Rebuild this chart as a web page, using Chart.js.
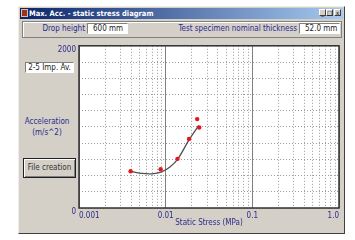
<!DOCTYPE html>
<html lang="en">
<head>
<meta charset="UTF-8">
<title>Max. Acc. - static stress diagram</title>
<script src="https://cdn.jsdelivr.net/npm/chart.js@4.4.0/dist/chart.umd.min.js"></script>
<style>
  body { margin: 0; width: 355px; height: 240px; background: #fff; position: relative; overflow: hidden;
         font-family: "Liberation Sans Narrow", "DejaVu Sans Condensed", Arial, sans-serif; font-size: 8px; }
  .abs { position: absolute; box-sizing: border-box; }
  .win { left: 18px; top: 6px; width: 327px; height: 228px; background: #d4d0c8;
         border: 1px solid; border-color: #f0eee8 #404040 #404040 #f0eee8; }
  .titlebar { left: 20px; top: 8px; width: 323px; height: 11px;
              background: linear-gradient(to right, #0a246a, #a6caf0); }
  .titletext { left: 29px; top: 8px; line-height: 11px; color: #fff; font-weight: bold; font-size: 7.5px; white-space: nowrap; }
  .icon { left: 21px; top: 9px; width: 7px; height: 8px; background: #a03020; border: 1px solid #e0c090; }
  .btn { top: 9px; width: 7px; height: 7px; background: #d4d0c8; border: 1px solid;
         border-color: #fff #404040 #404040 #fff; font-size: 6px; line-height: 5px; text-align: center; color: #000; }
  .frame { left: 22px; top: 21px; width: 320px; height: 17px; border: 1px solid #808080; box-shadow: 1px 1px 0 #fff inset; }
  .lbl { color: #2b2b8c; white-space: nowrap; }
  .box { background: #fff; border: 1px solid; border-color: #808080 #fff #fff #808080; color: #222;
         line-height: 9px; padding-left: 5px; white-space: nowrap; }
  .combo { left: 25px; top: 62px; width: 49px; height: 11px; text-align: center; padding-left: 0; }
  .button { left: 23px; top: 158px; width: 53px; height: 20px; background: #d4d0c8; border: 1px solid #202020;
            box-shadow: inset 1px 1px 0 #fff, inset -1px -1px 0 #808080; color: #333; text-align: center; line-height: 18px; }
  .ylab { left: 24px; top: 116px; width: 46px; text-align: center; line-height: 11px; }
  #chartWrap { left: 50px; top: 38px; width: 295px; height: 194px; }
</style>
</head>
<body>
  <div class="abs win"></div>
  <div class="abs titlebar"></div>
  <div class="abs icon"></div>
  <div class="abs titletext">Max. Acc. - static stress diagram</div>
  <div class="abs btn" style="left:319px;">_</div>
  <div class="abs btn" style="left:326px;">&#9633;</div>
  <div class="abs btn" style="left:334px;">x</div>

  <div class="abs frame"></div>
  <div class="abs lbl" style="right:270px; top:24px;">Drop height</div>
  <div class="abs box" style="left:87px; top:23px; width:41px; height:11px;">600 mm</div>
  <div class="abs lbl" style="right:58px; top:24px;">Test specimen nominal thickness</div>
  <div class="abs box" style="left:299px; top:23px; width:41px; height:11px;">52.0 mm</div>

  <div class="abs box combo">2-5 Imp. Av.</div>
  <div class="abs lbl ylab">Acceleration<br>(m/s^2)</div>
  <div class="abs button">File creation</div>

  <div class="abs" id="chartWrap"><canvas id="chart" width="295" height="194"></canvas></div>

<script>
// measured points
const stress = [0.00394, 0.00875, 0.0137, 0.0186, 0.0231, 0.0244];
const accel = [454, 478, 606, 852, 1096, 992];

// fitted curve
const fitStress = [0.00393, 0.0052, 0.0069, 0.0090, 0.0112, 0.0137, 0.0186, 0.0240];
const fitAccel = [450, 428, 422, 446, 506, 599, 840, 1016];

// axes
const xTicks = [0.001, 0.002, 0.003, 0.004, 0.005, 0.006, 0.007, 0.008, 0.009,
                0.01, 0.02, 0.03, 0.04, 0.05, 0.06, 0.07, 0.08, 0.09,
                0.1, 0.2, 0.3, 0.4, 0.5, 0.6, 0.7, 0.8, 0.9, 1];
const xDecades = [0.001, 0.01, 0.1, 1];
const xTickLabels = ['0.001', '0.01', '0.1', '1.0'];
const yTickLabels = ['0', '2000'];

const navy = '#2b2b8c';
const font = { family: '"Liberation Sans Narrow", "DejaVu Sans Condensed", Arial, sans-serif', size: 8 };

// dark frame around the plot
const framePlugin = {
  id: 'frame',
  beforeDatasetsDraw(chart) {
    const { ctx, chartArea: a } = chart;
    ctx.save();
    ctx.strokeStyle = '#303030';
    ctx.lineWidth = 1.5;
    ctx.strokeRect(a.left, a.top, a.right - a.left, a.bottom - a.top);
    ctx.restore();
  }
};

const bgPlugin = {
  id: 'plotBg',
  beforeDraw(chart) {
    const { ctx, chartArea: a } = chart;
    ctx.save();
    ctx.fillStyle = '#fff';
    ctx.fillRect(a.left, a.top, a.right - a.left, a.bottom - a.top);
    ctx.restore();
  }
};

new Chart(document.getElementById('chart'), {
  type: 'scatter',
  data: {
    datasets: [
      {
        label: 'Measured',
        data: stress.map((s, i) => ({ x: s, y: accel[i] })),
        backgroundColor: '#e8141c',
        borderWidth: 0,
        pointRadius: 2.2,
        order: 0
      },
      {
        label: 'Fit',
        data: fitStress.map((s, i) => ({ x: s, y: fitAccel[i] })),
        showLine: true,
        borderColor: '#505050',
        borderWidth: 1.3,
        pointRadius: 0,
        tension: 0.4,
        order: 1
      }
    ]
  },
  options: {
    responsive: false,
    animation: false,
    layout: { padding: { left: 0, top: 4, right: 6, bottom: 0 } },
    plugins: { legend: { display: false }, tooltip: { enabled: false } },
    scales: {
      x: {
        type: 'logarithmic',
        min: 0.001,
        max: 1,
        afterBuildTicks: s => { s.ticks = xTicks.map(v => ({ value: v })); },
        afterFit: s => { s.height = 24; },
        grid: { color: '#9a9a9a', lineWidth: 1, drawTicks: false },
        border: { display: false, dash: [1, 2] },
        ticks: {
          autoSkip: false,
          maxRotation: 0,
          align: 'inner',
          padding: 3,
          color: navy,
          font: font,
          callback: v => {
            const i = xDecades.indexOf(v);
            return i >= 0 ? xTickLabels[i] : '';
          }
        },
        title: { display: true, text: 'Static Stress (MPa)', color: navy, font: font, padding: { top: 0, bottom: 4 } }
      },
      xDecade: {
        type: 'logarithmic',
        position: 'top',
        min: 0.001,
        max: 1,
        afterBuildTicks: s => { s.ticks = xDecades.map(v => ({ value: v })); },
        afterFit: s => { s.height = 0; },
        grid: { color: '#808080', lineWidth: 1, drawTicks: false },
        border: { display: false },
        ticks: { display: false }
      },
      y: {
        min: 0,
        max: 2000,
        afterFit: s => { s.width = 29; },
        grid: { color: '#9a9a9a', lineWidth: 1, drawTicks: false },
        border: { display: false, dash: [1, 2] },
        ticks: {
          stepSize: 200,
          padding: 3,
          labelOffset: 4,
          color: navy,
          font: font,
          callback: v => (v === 0 ? yTickLabels[0] : v === 2000 ? yTickLabels[1] : '')
        }
      }
    }
  },
  plugins: [bgPlugin, framePlugin]
});
</script>
</body>
</html>
